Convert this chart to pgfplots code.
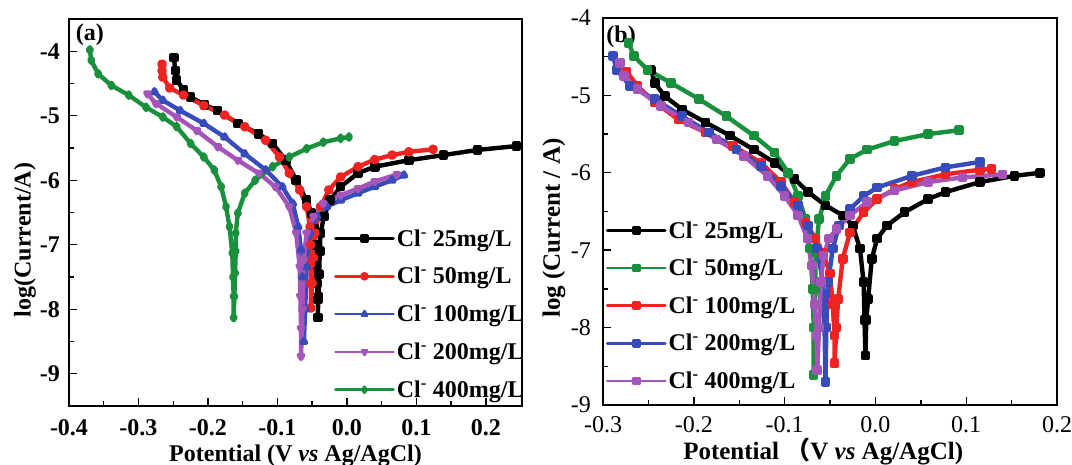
\documentclass[border=0pt]{standalone}
\usepackage{fontspec}
\setmainfont{Liberation Serif}
\newfontfamily\cjk{Noto Sans CJK SC}
\usepackage{pgfplots}
\pgfplotsset{compat=1.18}
\definecolor{cred}{RGB}{240,35,35}
\definecolor{cblue}{RGB}{55,75,185}
\definecolor{cpurple}{RGB}{165,85,185}
\definecolor{cgreen}{RGB}{25,145,60}
\newcommand{\fs}[1]{\fontsize{#1}{#1}\selectfont}
\pgfplotsset{
  common/.style={
    scale only axis,
    tick align=inside,
    xtick pos=bottom, ytick pos=left,
    major tick length=8bp, minor tick length=5bp,
    minor x tick num=1, minor y tick num=1,
    axis line style={line width=1.6bp},
    every tick/.style={line width=1.4bp, black},
    every axis plot/.append style={line width=4.4bp, mark size=2.6bp, line join=round, line cap=round},
    legend cell align=left,
    legend image code/.code={\draw[mark repeat=2,mark phase=2,##1,line width=2.6bp, mark size=3bp] plot coordinates {(0bp,0bp) (29bp,0bp) (58bp,0bp)};},
  }
}
\begin{document}
\begin{tikzpicture}
\path[use as bounding box] (0,0) rectangle (1072bp,465bp);
% ---------------- panel (a)
\begin{axis}[common,
  at={(69bp,59bp)}, anchor=south west,
  width=453bp, height=387bp,
  xmin=-0.4, xmax=0.252, ymin=-9.5, ymax=-3.5,
  xtick={-0.4,-0.3,-0.2,-0.1,0,0.1,0.2},
  xticklabels={-0.4,-0.3,-0.2,-0.1,0.0,0.1,0.2},
  ytick={-9,-8,-7,-6,-5,-4},
  yticklabels={-9,-8,-7,-6,-5,-4},
  xticklabel style={font=\bfseries\fs{24bp}, anchor=center, inner sep=0pt, yshift=-22bp},
  yticklabel style={font=\bfseries\fs{24bp}, anchor=east, inner sep=0pt, xshift=-9bp},
  xlabel={Potential (V \textit{vs} Ag/AgCl)},
  ylabel={log(Current/A)},
  xlabel style={font=\bfseries\fs{24bp}, at={(rel axis cs:0.5,0)}, anchor=center, inner sep=0pt, yshift=-50bp},
  ylabel style={font=\bfseries\fs{24bp}, at={(rel axis cs:0,0.429)}, anchor=center, inner sep=0pt, yshift=44bp},
  legend style={draw=none, fill=none, at={(rel axis cs:0.585,0.462)}, anchor=north west,
     font=\bfseries\fs{24bp}, row sep=15.7bp, inner sep=0bp},
]
\addplot[black, mark=square*] coordinates {
(-0.249,-4.10) (-0.247,-4.30) (-0.245,-4.45) (-0.235,-4.60) (-0.225,-4.71) (-0.205,-4.83) (-0.186,-4.92) (-0.157,-5.12) (-0.127,-5.28) (-0.107,-5.43) (-0.088,-5.69) (-0.073,-6.00) (-0.058,-6.31) (-0.051,-6.51) (-0.047,-6.75) (-0.045,-7.00) (-0.044,-7.30) (-0.043,-7.60) (-0.042,-7.85) (-0.042,-8.13) (-0.041,-7.80) (-0.040,-7.45) (-0.039,-7.10) (-0.038,-6.82) (-0.033,-6.56) (-0.024,-6.31) (-0.009,-6.10) (0.016,-5.89) (0.040,-5.79) (0.089,-5.69) (0.139,-5.61) (0.188,-5.53) (0.244,-5.47)};
\addlegendentry{Cl\textsuperscript{-} 25mg/L}
\addplot[cred, mark=*] coordinates {
(-0.266,-4.20) (-0.266,-4.30) (-0.265,-4.40) (-0.255,-4.57) (-0.235,-4.68) (-0.206,-4.84) (-0.176,-4.99) (-0.147,-5.17) (-0.117,-5.38) (-0.097,-5.64) (-0.083,-5.89) (-0.068,-6.15) (-0.058,-6.41) (-0.053,-6.72) (-0.052,-7.00) (-0.052,-7.30) (-0.052,-7.60) (-0.052,-7.98) (-0.050,-7.60) (-0.048,-7.20) (-0.046,-6.82) (-0.038,-6.41) (-0.026,-6.15) (-0.009,-5.95) (0.016,-5.79) (0.040,-5.68) (0.065,-5.61) (0.089,-5.56) (0.124,-5.52)};
\addlegendentry{Cl\textsuperscript{-} 50mg/L}
\addplot[cblue, mark=triangle*] coordinates {
(-0.277,-4.63) (-0.265,-4.76) (-0.240,-4.92) (-0.206,-5.12) (-0.176,-5.33) (-0.147,-5.59) (-0.117,-5.84) (-0.093,-6.10) (-0.078,-6.36) (-0.070,-6.72) (-0.066,-7.08) (-0.064,-7.50) (-0.063,-8.00) (-0.062,-8.50) (-0.060,-8.00) (-0.058,-7.34) (-0.053,-6.82) (-0.043,-6.56) (-0.029,-6.41) (-0.009,-6.31) (0.016,-6.20) (0.040,-6.10) (0.065,-6.00) (0.082,-5.92)};
\addlegendentry{Cl\textsuperscript{-} 100mg/L}
\addplot[cpurple, mark=triangle*, mark options={rotate=180}] coordinates {
(-0.287,-4.66) (-0.275,-4.81) (-0.245,-5.02) (-0.216,-5.23) (-0.186,-5.48) (-0.157,-5.69) (-0.127,-5.89) (-0.103,-6.10) (-0.083,-6.41) (-0.073,-6.82) (-0.068,-7.34) (-0.067,-7.80) (-0.066,-8.30) (-0.066,-8.73) (-0.064,-8.00) (-0.062,-7.23) (-0.058,-6.82) (-0.048,-6.56) (-0.034,-6.36) (-0.009,-6.23) (0.016,-6.13) (0.040,-6.02) (0.072,-5.91)};
\addlegendentry{Cl\textsuperscript{-} 200mg/L}
\addplot[cgreen, mark=diamond*] coordinates {
(-0.370,-3.98) (-0.368,-4.14) (-0.358,-4.35) (-0.339,-4.53) (-0.314,-4.68) (-0.289,-4.87) (-0.265,-5.02) (-0.245,-5.17) (-0.225,-5.43) (-0.206,-5.64) (-0.191,-5.84) (-0.181,-6.10) (-0.174,-6.41) (-0.169,-6.72) (-0.165,-7.13) (-0.164,-7.50) (-0.163,-7.80) (-0.163,-8.13) (-0.162,-7.80) (-0.161,-7.44) (-0.160,-7.10) (-0.160,-6.82) (-0.157,-6.51) (-0.147,-6.20) (-0.132,-6.00) (-0.107,-5.79) (-0.083,-5.64) (-0.058,-5.51) (-0.034,-5.41) (-0.009,-5.35) (0.003,-5.33)};
\addlegendentry{Cl\textsuperscript{-} 400mg/L}
\node[font=\bfseries\fs{24bp}, inner sep=0pt] at (rel axis cs:0.046,0.959) {(a)};
\end{axis}
% ---------------- panel (b)
\begin{axis}[common,
  at={(603bp,60bp)}, anchor=south west,
  width=454bp, height=387bp,
  xmin=-0.3, xmax=0.2, ymin=-9, ymax=-4,
  xtick={-0.3,-0.2,-0.1,0,0.1,0.2},
  xticklabels={-0.3,-0.2,-0.1,0.0,0.1,0.2},
  ytick={-9,-8,-7,-6,-5,-4},
  yticklabels={-9,-8,-7,-6,-5,-4},
  xticklabel style={font=\fs{24bp}, anchor=center, inner sep=0pt, yshift=-20bp},
  yticklabel style={font=\fs{24bp}, anchor=east, inner sep=0pt, xshift=-12bp},
  xlabel={Potential {\cjk （}V \textit{vs} Ag/AgCl)},
  ylabel={log (Current / A)},
  xlabel style={font=\bfseries\fs{25bp}, at={(rel axis cs:0.485,0)}, anchor=center, inner sep=0pt, yshift=-46bp},
  ylabel style={font=\bfseries\fs{25bp}, at={(rel axis cs:0,0.457)}, anchor=center, inner sep=0pt, yshift=49bp},
  legend style={draw=none, fill=none, at={(rel axis cs:0.006,0.48)}, anchor=north west,
     font=\bfseries\fs{24bp}, row sep=15.5bp, inner sep=0bp},
  every axis plot/.append style={mark=square*},
]
\addplot[black] coordinates {
(-0.247,-4.67) (-0.243,-4.84) (-0.232,-5.01) (-0.213,-5.18) (-0.187,-5.35) (-0.160,-5.52) (-0.134,-5.70) (-0.111,-5.87) (-0.089,-6.08) (-0.074,-6.25) (-0.055,-6.42) (-0.036,-6.55) (-0.025,-6.68) (-0.017,-6.98) (-0.013,-7.41) (-0.012,-7.90) (-0.011,-8.36) (-0.010,-7.90) (-0.008,-7.63) (-0.004,-7.11) (0.002,-6.85) (0.013,-6.68) (0.032,-6.51) (0.058,-6.34) (0.077,-6.25) (0.115,-6.12) (0.153,-6.04) (0.181,-6.00)};
\addlegendentry{Cl\textsuperscript{-} 25mg/L}
\addplot[cgreen] coordinates {
(-0.272,-4.32) (-0.266,-4.49) (-0.251,-4.67) (-0.225,-4.84) (-0.194,-5.05) (-0.164,-5.27) (-0.134,-5.52) (-0.111,-5.74) (-0.096,-6.00) (-0.085,-6.30) (-0.077,-6.60) (-0.072,-6.98) (-0.069,-7.50) (-0.068,-8.00) (-0.068,-8.61) (-0.067,-8.00) (-0.066,-7.50) (-0.066,-7.03) (-0.062,-6.60) (-0.055,-6.30) (-0.043,-6.04) (-0.028,-5.82) (-0.009,-5.70) (0.021,-5.59) (0.058,-5.50) (0.092,-5.45)};
\addlegendentry{Cl\textsuperscript{-} 50mg/L}
\addplot[cred] coordinates {
(-0.274,-4.69) (-0.262,-4.88) (-0.243,-5.09) (-0.217,-5.31) (-0.187,-5.48) (-0.157,-5.65) (-0.126,-5.87) (-0.104,-6.12) (-0.089,-6.38) (-0.077,-6.64) (-0.066,-6.85) (-0.058,-7.03) (-0.050,-7.30) (-0.047,-7.70) (-0.045,-8.10) (-0.045,-8.46) (-0.043,-8.00) (-0.041,-7.63) (-0.036,-7.11) (-0.028,-6.77) (-0.013,-6.51) (0.002,-6.34) (0.021,-6.21) (0.040,-6.12) (0.077,-6.02) (0.115,-5.96) (0.128,-5.95)};
\addlegendentry{Cl\textsuperscript{-} 100mg/L}
\addplot[cblue] coordinates {
(-0.289,-4.49) (-0.285,-4.67) (-0.270,-4.88) (-0.243,-5.05) (-0.213,-5.27) (-0.183,-5.48) (-0.153,-5.70) (-0.126,-5.91) (-0.104,-6.17) (-0.085,-6.42) (-0.074,-6.68) (-0.064,-6.98) (-0.058,-7.41) (-0.056,-8.00) (-0.055,-8.70) (-0.054,-8.00) (-0.052,-7.41) (-0.047,-6.98) (-0.040,-6.68) (-0.028,-6.47) (-0.013,-6.30) (0.002,-6.19) (0.040,-6.04) (0.077,-5.93) (0.115,-5.86)};
\addlegendentry{Cl\textsuperscript{-} 200mg/L}
\addplot[cpurple] coordinates {
(-0.281,-4.58) (-0.277,-4.75) (-0.262,-4.92) (-0.236,-5.14) (-0.206,-5.35) (-0.175,-5.57) (-0.145,-5.78) (-0.119,-6.04) (-0.100,-6.30) (-0.085,-6.55) (-0.075,-6.85) (-0.070,-7.20) (-0.067,-7.70) (-0.065,-8.10) (-0.064,-8.55) (-0.062,-8.00) (-0.060,-7.41) (-0.057,-7.07) (-0.051,-6.85) (-0.043,-6.73) (-0.028,-6.55) (-0.009,-6.38) (0.021,-6.23) (0.058,-6.12) (0.096,-6.06) (0.140,-6.02)};
\addlegendentry{Cl\textsuperscript{-} 400mg/L}
\node[font=\bfseries\fs{24bp}, inner sep=0pt] at (rel axis cs:0.040,0.951) {(b)};
\end{axis}
\end{tikzpicture}
\end{document}
